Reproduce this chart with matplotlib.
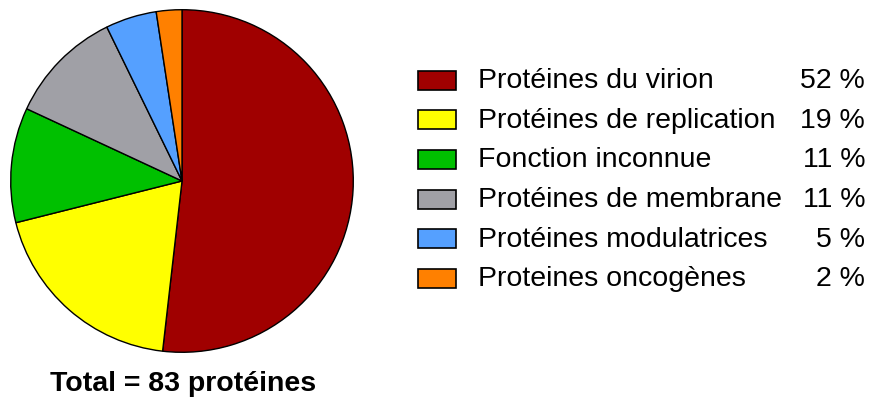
import matplotlib.pyplot as plt
from matplotlib.patches import Rectangle

plt.rcParams['font.family'] = ['Liberation Sans', 'DejaVu Sans']

# protein counts (total 83)
categories = ['Protéines du virion',
              'Protéines de replication',
              'Fonction inconnue',
              'Protéines de membrane',
              'Protéines modulatrices',
              'Proteines oncogènes']
counts = [43, 16, 9, 9, 4, 2]
percent_labels = ['52 %', '19 %', '11 %', '11 %', '5 %', '2 %']
colors = ['#A00000', '#FFFF00', '#00C000', '#A0A0A6', '#55A0FF', '#FF8000']

W, H = 872, 402
fig = plt.figure(figsize=(W / 100, H / 100), dpi=100)

# pie
cx, cy, r = 182, 182, 173
ax = fig.add_axes([(cx - r) / W, (H - cy - r) / H, 2 * r / W, 2 * r / H])
ax.pie(counts, colors=colors, startangle=90, counterclock=False, radius=1,
       wedgeprops=dict(edgecolor='black', linewidth=1))
ax.set_xlim(-1.01, 1.01)
ax.set_ylim(-1.01, 1.01)
ax.set_aspect('equal')

# overlay in pixel coordinates for legend and caption
ov = fig.add_axes([0, 0, 1, 1])
ov.set_xlim(0, W)
ov.set_ylim(H, 0)
ov.axis('off')

y0, dy = 81, 39.7
for i, (cat, pct, col) in enumerate(zip(categories, percent_labels, colors)):
    y = y0 + i * dy
    ov.add_patch(Rectangle((418, y - 9.5), 38, 19, facecolor=col,
                           edgecolor='black', linewidth=1.2))
    ov.text(478, y, cat, fontsize=20.5, ha='left', va='center')
    ov.text(865, y, pct, fontsize=20.5, ha='right', va='center')

ov.text(183, 384, 'Total = 83 protéines', fontsize=20.5, fontweight='bold',
        ha='center', va='center')

plt.savefig('out.png', dpi=100)
